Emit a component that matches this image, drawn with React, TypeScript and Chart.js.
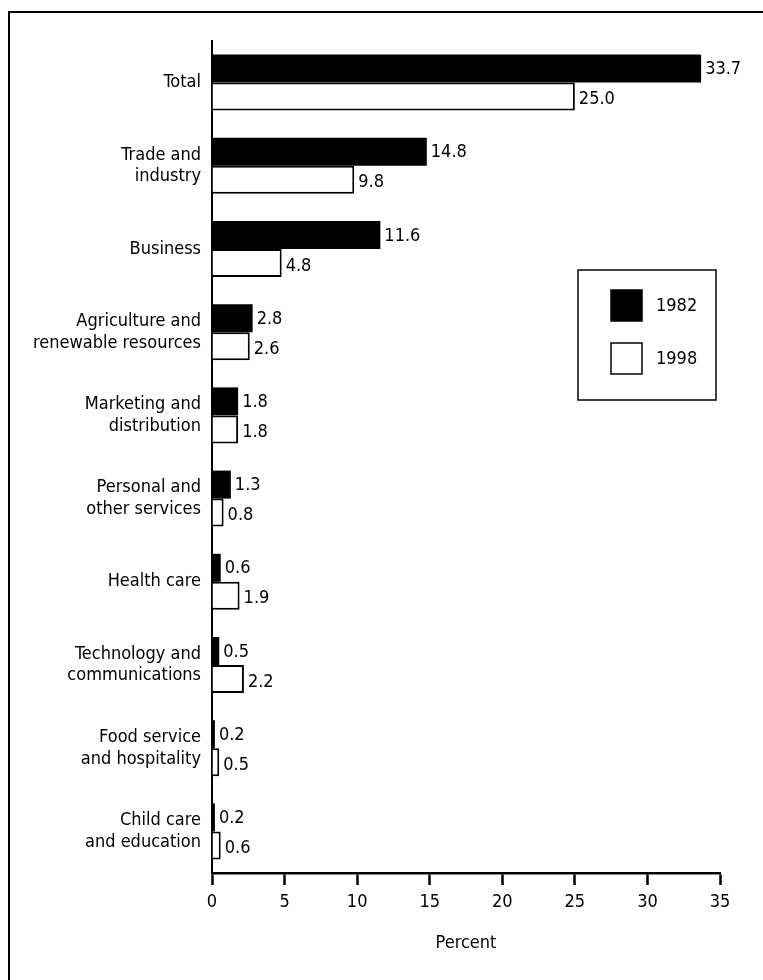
import React, { useEffect, useRef } from "react";
import { Chart, registerables } from "chart.js";

Chart.register(...registerables);

const categories: string[][] = [
  ["Total"],
  ["Trade and", "industry"],
  ["Business"],
  ["Agriculture and", "renewable resources"],
  ["Marketing and", "distribution"],
  ["Personal and", "other services"],
  ["Health care"],
  ["Technology and", "communications"],
  ["Food service", "and hospitality"],
  ["Child care", "and education"],
];

const values1982: number[] = [33.7, 14.8, 11.6, 2.8, 1.8, 1.3, 0.6, 0.5, 0.2, 0.2];
const values1998: number[] = [25.0, 9.8, 4.8, 2.6, 1.8, 0.8, 1.9, 2.2, 0.5, 0.6];

const seriesNames: string[] = ["1982", "1998"];
const xTicks: number[] = [0, 5, 10, 15, 20, 25, 30, 35];
const xTitle = "Percent";

const FONT = '"DejaVu Sans Condensed", "Liberation Sans Narrow", sans-serif';
const FSIZE = 18;

const valueLabelPlugin = {
  id: "valueLabels",
  afterDatasetsDraw(chart: any) {
    const ctx = chart.ctx;
    ctx.save();
    ctx.fillStyle = "#000";
    ctx.font = `${FSIZE}px ${FONT}`;
    ctx.textAlign = "left";
    ctx.textBaseline = "middle";
    chart.data.datasets.forEach((ds: any, di: number) => {
      const meta = chart.getDatasetMeta(di);
      meta.data.forEach((el: any, i: number) => {
        const v = ds.data[i] as number;
        ctx.fillText(v.toFixed(1), el.x + 4, el.y + (di === 0 ? 1 : 3));
      });
    });
    ctx.restore();
  },
};

const legendBoxPlugin = {
  id: "legendBox",
  afterDraw(chart: any) {
    const ctx = chart.ctx;
    const boxL = 578, boxT = 270, boxW = 138, boxH = 130;
    ctx.save();
    ctx.strokeStyle = "#000";
    ctx.lineWidth = 1.5;
    ctx.strokeRect(boxL, boxT, boxW, boxH);
    chart.data.datasets.forEach((ds: any, di: number) => {
      const sy = 290 + di * 53;
      ctx.fillStyle = ds.backgroundColor;
      ctx.fillRect(611, sy, 31, 31);
      ctx.lineWidth = 1.5;
      ctx.strokeStyle = "#000";
      ctx.strokeRect(611, sy, 31, 31);
      ctx.fillStyle = "#000";
      ctx.font = `${FSIZE}px ${FONT}`;
      ctx.textAlign = "left";
      ctx.textBaseline = "middle";
      ctx.fillText(ds.label, 656, sy + 16);
    });
    ctx.restore();
  },
};

export default function App() {
  const canvasRef = useRef<HTMLCanvasElement | null>(null);

  useEffect(() => {
    if (!canvasRef.current) return;
    const chart = new Chart(canvasRef.current, {
      type: "bar",
      data: {
        labels: categories,
        datasets: [
          {
            label: seriesNames[0],
            data: values1982,
            backgroundColor: "#000",
            borderColor: "#000",
            borderWidth: 0,
            categoryPercentage: 0.673,
            barPercentage: 1,
          },
          {
            label: seriesNames[1],
            data: values1998,
            backgroundColor: "#fff",
            borderColor: "#000",
            borderWidth: 2,
            categoryPercentage: 0.673,
            barPercentage: 1,
          },
        ],
      },
      options: {
        indexAxis: "y",
        responsive: false,
        animation: false,
        devicePixelRatio: 1,
        layout: { padding: { left: 0, right: 43, top: 41, bottom: 0 } },
        plugins: {
          legend: { display: false },
          tooltip: { enabled: false },
        },
        scales: {
          x: {
            min: 0,
            max: 35,
            afterFit(scale: any) {
              scale.height = 107;
            },
            afterBuildTicks(scale: any) {
              scale.ticks = xTicks.map((v) => ({ value: v }));
            },
            grid: {
              display: true,
              drawOnChartArea: false,
              drawTicks: true,
              tickLength: 12,
              tickWidth: 2.5,
              tickColor: "#000",
            },
            border: { display: true, color: "#000", width: 2.5 },
            ticks: {
              color: "#000",
              font: { family: FONT, size: FSIZE },
              padding: 7,
              maxRotation: 0,
            },
            title: {
              display: true,
              text: xTitle,
              color: "#000",
              font: { family: FONT, size: FSIZE },
              padding: { top: 0, bottom: 26 },
            },
          },
          y: {
            afterFit(scale: any) {
              scale.width = 212;
            },
            grid: { display: true, drawOnChartArea: false, drawTicks: false },
            border: { display: true, color: "#000", width: 2 },
            ticks: {
              color: "#000",
              font: { family: FONT, size: FSIZE, lineHeight: 1.2 },
              padding: 11,
              autoSkip: false,
            },
          },
        },
      },
      plugins: [valueLabelPlugin, legendBoxPlugin],
    } as any);
    return () => chart.destroy();
  }, []);

  return (
    <div style={{ position: "absolute", left: 0, top: 0, width: 763, height: 980, background: "#fff" }}>
      <canvas ref={canvasRef} width={763} height={980} style={{ position: "absolute", left: 0, top: 0, width: 763, height: 980 }} />
      <div
        style={{
          position: "absolute",
          left: 8,
          top: 11,
          width: 755,
          height: 969,
          borderTop: "2px solid #000",
          borderLeft: "2px solid #000",
          boxSizing: "border-box",
          pointerEvents: "none",
        }}
      />
    </div>
  );
}
